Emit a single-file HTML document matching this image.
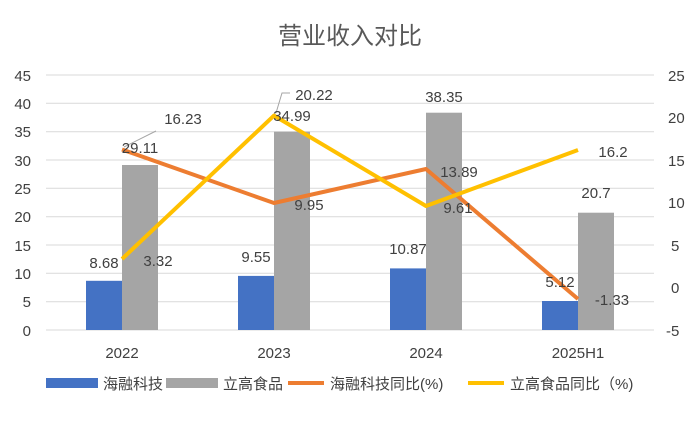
<!DOCTYPE html><html><head><meta charset="utf-8"><style>body{margin:0;background:#fff}svg text{font-family:"Liberation Sans","Noto Sans CJK SC",sans-serif;fill:#404040}</style></head><body>
<svg width="700" height="420" viewBox="0 0 700 420">
<text x="350" y="44" font-size="24" text-anchor="middle" style="fill:#595959">营业收入对比</text>
<g stroke="#d9d9d9" stroke-width="1">
<line x1="46" x2="654" y1="75" y2="75"/><line x1="46" x2="654" y1="103.3" y2="103.3"/><line x1="46" x2="654" y1="131.7" y2="131.7"/><line x1="46" x2="654" y1="160" y2="160"/><line x1="46" x2="654" y1="188.3" y2="188.3"/><line x1="46" x2="654" y1="216.7" y2="216.7"/><line x1="46" x2="654" y1="245" y2="245"/><line x1="46" x2="654" y1="273.3" y2="273.3"/><line x1="46" x2="654" y1="301.7" y2="301.7"/><line x1="46" x2="654" y1="330" y2="330"/></g>
<g font-size="15" text-anchor="end">
<text x="31" y="81">45</text><text x="31" y="109">40</text><text x="31" y="137">35</text><text x="31" y="166">30</text><text x="31" y="194">25</text><text x="31" y="222">20</text><text x="31" y="251">15</text><text x="31" y="279">10</text><text x="31" y="307">5</text><text x="31" y="336">0</text></g>
<g font-size="15" text-anchor="start">
<text x="668" y="81">25</text><text x="668" y="123">20</text><text x="668" y="166">15</text><text x="668" y="208">10</text><text x="671" y="251">5</text><text x="671" y="293">0</text><text x="666" y="336">-5</text></g>
<g fill="#4472c4"><rect x="86" y="280.8" width="36" height="49.2"/><rect x="238" y="275.9" width="36" height="54.1"/><rect x="390" y="268.4" width="36" height="61.6"/><rect x="542" y="301" width="36" height="29"/></g>
<g fill="#a5a5a5"><rect x="122" y="165" width="36" height="165"/><rect x="274" y="131.7" width="36" height="198.3"/><rect x="426" y="112.7" width="36" height="217.3"/><rect x="578" y="212.7" width="36" height="117.3"/></g>
<polyline points="122,149.5 274,203 426,169 578,299" fill="none" stroke="#ed7d31" stroke-width="4" stroke-linejoin="round"/>
<polyline points="122,259 274,115.6 426,206 578,150" fill="none" stroke="#ffc000" stroke-width="4" stroke-linejoin="round"/>
<polyline points="124,147 156,131" fill="none" stroke="#a5a5a5" stroke-width="1"/>
<polyline points="276,113 282,93 290,93" fill="none" stroke="#a5a5a5" stroke-width="1"/>
<g font-size="15" text-anchor="middle">
<text x="104" y="268">8.68</text><text x="256" y="262">9.55</text><text x="408" y="254">10.87</text><text x="560" y="287">5.12</text>
<text x="140" y="153">29.11</text><text x="292" y="121">34.99</text><text x="444" y="102">38.35</text><text x="596" y="198">20.7</text>
<text x="183" y="124">16.23</text><text x="314" y="100">20.22</text><text x="613" y="157">16.2</text>
<text x="309" y="210">9.95</text><text x="459" y="177">13.89</text><text x="612" y="305">-1.33</text>
<text x="158" y="266">3.32</text><text x="458" y="213">9.61</text></g>
<g font-size="15" text-anchor="middle"><text x="122" y="358">2022</text><text x="274" y="358">2023</text><text x="426" y="358">2024</text><text x="578" y="358">2025H1</text></g>
<g font-size="15">
<rect x="46" y="378" width="52" height="10" fill="#4472c4"/><text x="103" y="389">海融科技</text>
<rect x="166" y="378" width="52" height="10" fill="#a5a5a5"/><text x="223" y="389">立高食品</text>
<line x1="288" x2="324" y1="383" y2="383" stroke="#ed7d31" stroke-width="4"/><text x="330" y="389">海融科技同比(%)</text>
<line x1="468" x2="504" y1="383" y2="383" stroke="#ffc000" stroke-width="4"/><text x="510" y="389">立高食品同比（%)</text></g>
</svg></body></html>
